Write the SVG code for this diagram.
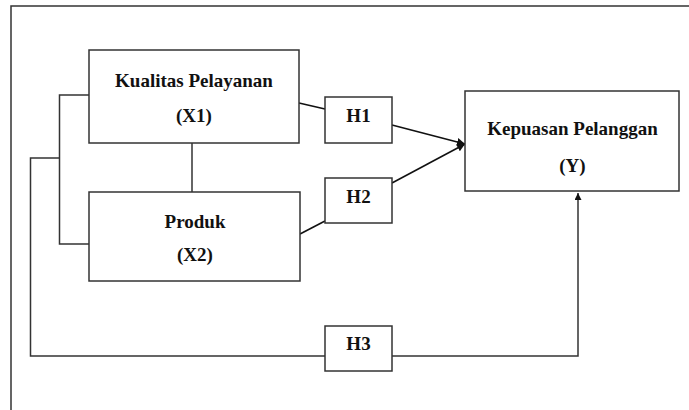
<svg xmlns="http://www.w3.org/2000/svg" width="689" height="410" viewBox="0 0 689 410">
<style>
.box{fill:#fff;stroke:#333;stroke-width:1.5}
.ln{fill:none;stroke:#333;stroke-width:1.5}
.ar{fill:none;stroke:#111;stroke-width:1.6}
text{font-family:"Liberation Serif","Times New Roman",serif;font-weight:bold;font-size:19px;fill:#111;text-anchor:middle}
</style>
<defs>
<marker id="ah" viewBox="0 0 10 10" refX="10" refY="5" markerWidth="7" markerHeight="7" markerUnits="userSpaceOnUse" orient="auto">
<path d="M0,0 L10,5 L0,10 z" fill="#111"/>
</marker>
<marker id="ah2" viewBox="0 0 10 10" refX="10" refY="5" markerWidth="8" markerHeight="8" markerUnits="userSpaceOnUse" orient="auto">
<path d="M0,0 L10,5 L0,10 z" fill="#111"/>
</marker>
</defs>
<g id="frame">
<path class="ln" d="M11,410 V6 H689"/>
</g>
<g id="connectors">
<path class="ln" d="M89,95 H59.5 V244 H89"/>
<path class="ln" d="M192,143 V192"/>
<path class="ln" d="M59.5,158 H30.5 V356 H325"/>
<path class="ln" d="M392,356 H578 V193" marker-end="url(#ah)"/>
<path class="ar" d="M299,103 L325,109"/>
<path class="ar" d="M392,125 L465,144" marker-end="url(#ah2)"/>
<path class="ar" d="M300,234 L325,221"/>
<path class="ar" d="M392,183 L465,144" marker-end="url(#ah2)"/>
</g>
<g id="x1">
<rect class="box" x="89" y="50" width="210" height="93"/>
<text x="194" y="87">Kualitas Pelayanan</text>
<text x="194" y="122">(X1)</text>
</g>
<g id="x2">
<rect class="box" x="89" y="192" width="211" height="89"/>
<text x="195" y="228">Produk</text>
<text x="195" y="261">(X2)</text>
</g>
<g id="h1">
<rect class="box" x="325" y="97" width="67" height="46"/>
<text x="358.5" y="121.5">H1</text>
</g>
<g id="h2">
<rect class="box" x="325" y="178" width="67" height="45"/>
<text x="358.5" y="203">H2</text>
</g>
<g id="h3">
<rect class="box" x="325" y="326" width="67" height="45"/>
<text x="358.5" y="350">H3</text>
</g>
<g id="y">
<rect class="box" x="465" y="91" width="214" height="100"/>
<text x="572.5" y="135">Kepuasan Pelanggan</text>
<text x="572.5" y="171.5">(Y)</text>
</g>
</svg>
